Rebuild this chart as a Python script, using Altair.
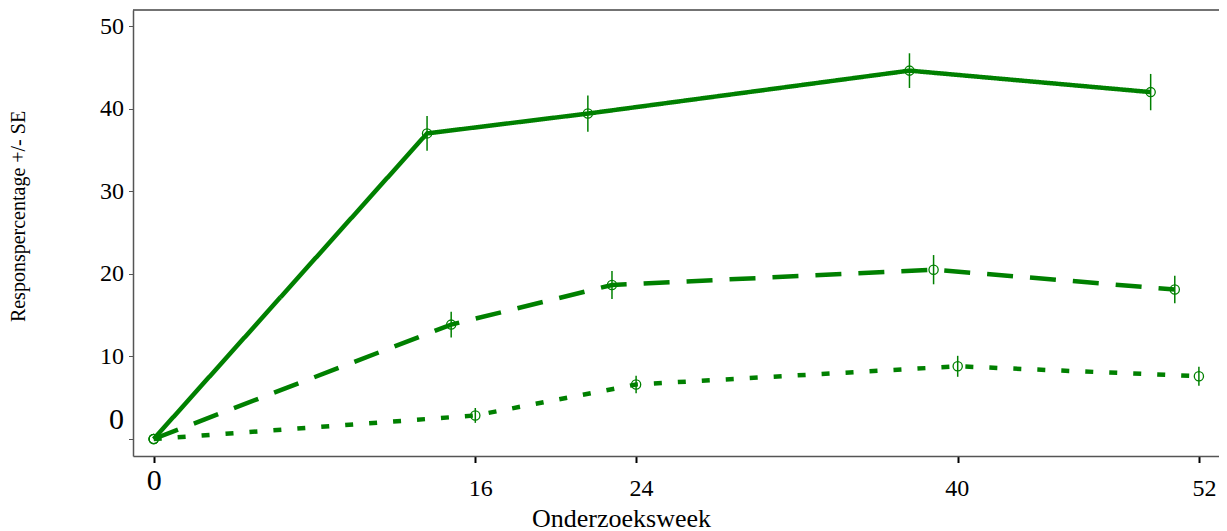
import altair as alt
import pandas as pd

# ---- data ----
series_names = ["Reeks 1", "Reeks 2", "Reeks 3"]

weeks_1 = [0, 13.6, 21.6, 37.6, 49.6]
resp_1 = [0, 37.0, 39.4, 44.6, 42.0]
se_1 = [0, 2.1, 2.2, 2.1, 2.2]

weeks_2 = [0, 14.8, 22.8, 38.8, 50.8]
resp_2 = [0, 13.85, 18.65, 20.5, 18.1]
se_2 = [0, 1.55, 1.7, 1.77, 1.67]

weeks_3 = [0, 16, 24, 40, 52]
resp_3 = [0, 2.85, 6.6, 8.8, 7.6]
se_3 = [0, 0.9, 1.07, 1.27, 1.15]

x_ticks = [0, 16, 24, 40, 52]
y_ticks = [0, 10, 20, 30, 40, 50]

rows = []
for name, wk, rs, se in zip(series_names, [weeks_1, weeks_2, weeks_3],
                            [resp_1, resp_2, resp_3], [se_1, se_2, se_3]):
    for w, r, s in zip(wk, rs, se):
        rows.append({"series": name, "week": w, "resp": r, "se": s,
                     "lo": r - s, "hi": r + s})
df = pd.DataFrame(rows)

GREEN = "#008000"
W, H = 1086, 446
FONT = "Liberation Serif"

xscale = alt.Scale(domain=[-1.03, 53.0], nice=False, zero=False)
yscale = alt.Scale(domain=[-2.06, 51.94], nice=False, zero=False)

xaxis = alt.Axis(
    values=x_ticks, title="Onderzoeksweek", grid=False,
    labelFlush=False, labelOverlap=False,
    labelFont=FONT, labelColor="black",
    labelFontSize={"condition": {"test": "datum.value == 0", "value": 30}, "value": 24},
    labelPadding={"condition": {"test": "datum.value == 0", "value": 3}, "value": 14},
    labelOffset={"condition": [{"test": "datum.value == 0", "value": 0},
                               {"test": "datum.value == 40", "value": -1}], "value": 5},
    tickSize=6.5, tickWidth=2, tickColor="black",
    domainColor="#555555", domainWidth=1.5,
    titleFont=FONT, titleFontSize=26, titleFontWeight="normal", titleColor="black",
    titleX=488, titleY=70, titleAlign="center", titleBaseline="alphabetic",
)
yaxis = alt.Axis(
    values=y_ticks, title="Responspercentage +/- SE", grid=False,
    labelFlush=False, labelOverlap=False,
    labelFont=FONT, labelColor="black",
    labelFontSize={"condition": {"test": "datum.value == 0", "value": 30}, "value": 24},
    labelOffset={"condition": {"test": "datum.value == 0", "value": -19}, "value": 0},
    labelPadding=5,
    tickSize=4.5, tickWidth=1, tickColor="#555555",
    domainColor="#555555", domainWidth=1.5,
    titleFont=FONT, titleFontSize=20, titleFontWeight="normal", titleColor="black",
    titleX=-115, titleY=206, titleAngle=270, titleAlign="center", titleBaseline="middle",
)

base = alt.Chart(df)

lines = base.mark_line(color=GREEN, strokeWidth=4.5).encode(
    x=alt.X("week:Q", scale=xscale, axis=xaxis),
    y=alt.Y("resp:Q", scale=yscale, axis=yaxis),
    strokeDash=alt.StrokeDash(
        "series:N",
        scale=alt.Scale(domain=series_names, range=[[1, 0], [26, 17], [8, 16]]),
        legend=None,
    ),
)

errbars = base.transform_filter("datum.se > 0").mark_rule(
    color=GREEN, strokeWidth=1.5
).encode(
    x=alt.X("week:Q", scale=xscale, axis=xaxis),
    y=alt.Y("lo:Q", scale=yscale, axis=yaxis),
    y2="hi:Q",
)

points = base.mark_point(
    shape="circle", filled=False, color=GREEN, size=85, strokeWidth=1.3, opacity=1
).encode(
    x=alt.X("week:Q", scale=xscale, axis=xaxis),
    y=alt.Y("resp:Q", scale=yscale, axis=yaxis),
)

topline = alt.Chart(pd.DataFrame({"k": [0]})).mark_rule(
    color="#444444", strokeWidth=1.5
).encode(x=alt.value(0), x2=alt.value(W), y=alt.value(0))

chart = alt.layer(lines, errbars, points, topline).properties(
    width=W, height=H,
    padding={"left": 125, "top": 2, "right": 0, "bottom": 75},
    autosize=alt.AutoSizeParams(type="none"),
).configure_view(stroke=None)

chart.save("out.html", embed_options={"renderer": "svg", "actions": False})
